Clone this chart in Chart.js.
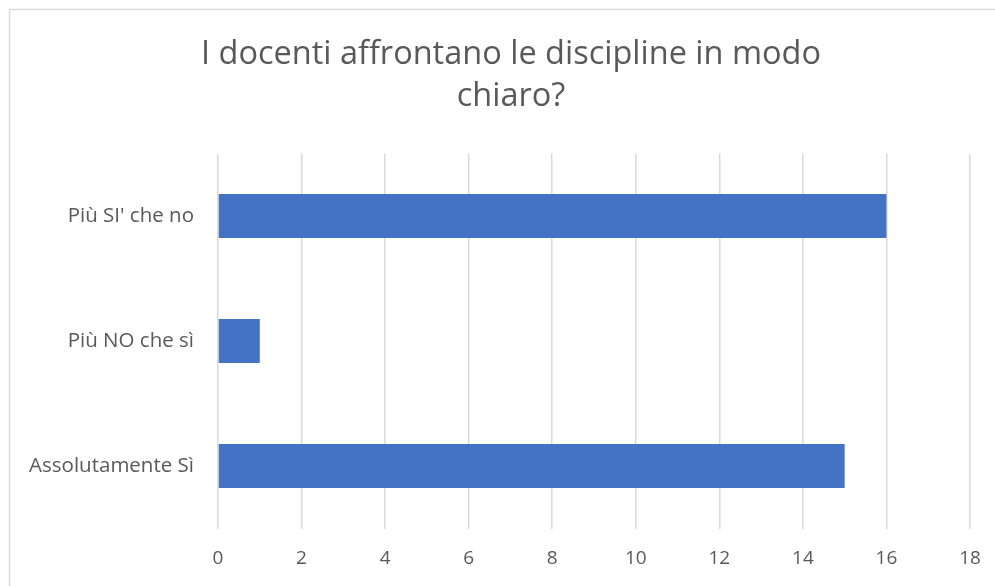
<!DOCTYPE html>
<html>
<head>
<meta charset="utf-8">
<script src="https://cdn.jsdelivr.net/npm/chart.js@4"></script>
<style>
html,body{margin:0;padding:0;background:#fff;overflow:hidden;}
#wrap{position:absolute;left:0;top:0;width:995px;height:586px;}
</style>
</head>
<body>
<div id="wrap"><canvas id="c" width="995" height="586"></canvas></div>
<script>
const categories = ["Più SI' che no", "Più NO che sì", "Assolutamente Sì"];
const values = [16, 1, 15];
const titleLines = ["I docenti affrontano le discipline in modo", "chiaro?"];
const xMin = 0, xMax = 18, xStep = 2;

const decorPlugin = {
  id: 'decor',
  afterDraw(chart) {
    const ctx = chart.ctx;
    ctx.save();
    ctx.strokeStyle = '#d9d9d9';
    ctx.lineWidth = 1.5;
    ctx.strokeRect(9.5, 9.5, 1100, 700);
    ctx.fillStyle = '#595959';
    ctx.font = 'normal 32.5px "Open Sans"';
    ctx.textAlign = 'center';
    ctx.textBaseline = 'middle';
    const cx = 511;
    titleLines.forEach((t, i) => ctx.fillText(t, cx, 55 + i * 42));
    ctx.restore();
  }
};

new Chart(document.getElementById('c'), {
  type: 'bar',
  data: {
    labels: categories,
    datasets: [{
      data: values,
      backgroundColor: '#4472C4',
      borderWidth: 0,
      categoryPercentage: 1,
      barPercentage: 0.352
    }]
  },
  options: {
    indexAxis: 'y',
    responsive: false,
    animation: false,
    devicePixelRatio: 1,
    layout: { padding: { left: 10, right: 25, top: 153.5, bottom: 0 } },
    plugins: {
      legend: { display: false },
      tooltip: { enabled: false },
      title: { display: false }
    },
    scales: {
      x: {
        min: xMin, max: xMax,
        ticks: { stepSize: xStep, color: '#595959', font: { family: 'Open Sans', size: 19 }, padding: 19 },
        grid: { color: '#d9d9d9', lineWidth: 1.5, drawTicks: false },
        border: { display: false },
        afterFit(s) { s.height = 57.5; s.paddingLeft = 0; s.paddingRight = 0; }
      },
      y: {
        ticks: { color: '#595959', font: { family: 'Open Sans', size: 20.5 }, padding: 24 },
        grid: { display: false, drawTicks: false },
        border: { display: false },
        afterFit(s) { s.width = 208; s.paddingTop = 0; s.paddingBottom = 0; }
      }
    }
  },
  plugins: [decorPlugin]
});
</script>
</body>
</html>
